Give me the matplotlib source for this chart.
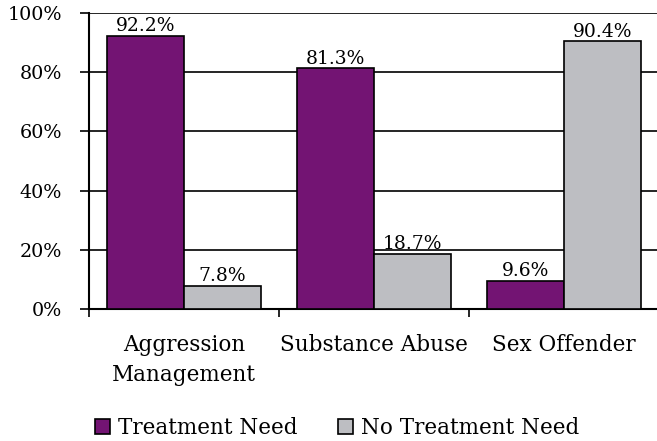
import matplotlib
matplotlib.use('Agg')
import matplotlib.pyplot as plt
import numpy as np

# treatment need by program area (percent)
categories = ['Aggression\nManagement', 'Substance Abuse', 'Sex Offender']
treatment_need = [92.2, 81.3, 9.6]
no_treatment_need = [7.8, 18.7, 90.4]
series_names = ['Treatment Need', 'No Treatment Need']
y_ticks = [0, 20, 40, 60, 80, 100]

purple = '#731473'
gray = '#bdbec2'

plt.rcParams['font.family'] = ['DejaVu Serif']

fig = plt.figure(figsize=(6.57, 4.41), dpi=100)
ax = fig.add_axes([89 / 657, 132 / 441, 568 / 657, 296 / 441])

x = np.arange(len(categories))
w = 0.405
bars1 = ax.bar(x - w / 2, treatment_need, w, color=purple, edgecolor='black',
               linewidth=1.2, label=series_names[0], zorder=3)
bars2 = ax.bar(x + w / 2, no_treatment_need, w, color=gray, edgecolor='black',
               linewidth=1.2, label=series_names[1], zorder=3)

for bars, vals in ((bars1, treatment_need), (bars2, no_treatment_need)):
    for b, v in zip(bars, vals):
        ax.annotate(f'{v:.1f}%', (b.get_x() + b.get_width() / 2, v),
                    xytext=(0, 0.5), textcoords='offset points',
                    ha='center', va='bottom', fontsize=13.5)

ax.set_ylim(0, 100)
ax.set_xlim(-0.5, -0.5 + 568 / 190)
ax.set_yticks(y_ticks)
ax.set_yticklabels([f'{t}%' for t in y_ticks])
ax.yaxis.grid(True, color='black', linewidth=1.2, zorder=0)
ax.set_axisbelow(True)

ax.set_xticks(x)
ax.set_xticklabels(categories, fontsize=15.5, linespacing=1.5)
ax.set_xticks(np.arange(len(categories)) - 0.5, minor=True)
ax.tick_params(axis='x', which='major', length=0, pad=18)
ax.tick_params(axis='x', which='minor', length=6, width=1.2, direction='out')
ax.tick_params(axis='y', length=6.5, width=1.2, pad=13, labelsize=13.8)

for s in ('top', 'right'):
    ax.spines[s].set_visible(False)
for s in ('left', 'bottom'):
    ax.spines[s].set_linewidth(1.5)

fig.legend(handles=[bars1, bars2], loc='lower center', bbox_to_anchor=(0.513, -0.04),
           ncol=2, frameon=False, fontsize=15.5, handlelength=0.7, handleheight=0.7,
           handletextpad=0.4, columnspacing=1.85)

fig.savefig('out.png', dpi=100)
